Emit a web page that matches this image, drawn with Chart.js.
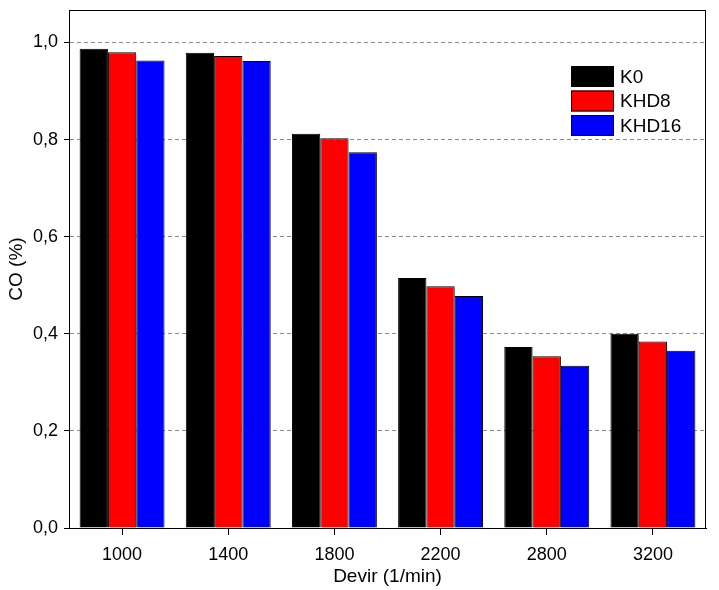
<!DOCTYPE html>
<html>
<head>
<meta charset="utf-8">
<script src="https://cdn.jsdelivr.net/npm/chart.js@4/dist/chart.umd.min.js"></script>
<style>
  html, body { margin: 0; padding: 0; background: #fff; }
  #wrap { width: 719px; height: 590px; }
</style>
</head>
<body>
<div id="wrap"><canvas id="myChart" width="719" height="590"></canvas></div>
<script>
const categories = ["1000", "1400", "1800", "2200", "2800", "3200"];
const seriesNames = ["K0", "KHD8", "KHD16"];
const k0 = [0.987, 0.979, 0.812, 0.515, 0.373, 0.400];
const khd8 = [0.980, 0.972, 0.803, 0.498, 0.354, 0.384];
const khd16 = [0.963, 0.962, 0.774, 0.478, 0.334, 0.365];
const yTicks = [0, 0.2, 0.4, 0.6, 0.8, 1.0];
const colors = ["#000000", "#ff0000", "#0000ff"];

const font = "'Liberation Sans', Arial, sans-serif";
Chart.defaults.font.family = font;
Chart.defaults.color = "#000";

// frame round the plot and the legend box inside it
const framePlugin = {
  id: "frame",
  afterDraw(chart) {
    const { ctx, chartArea: a } = chart;
    ctx.save();
    ctx.strokeStyle = "#000";
    ctx.lineWidth = 1;
    ctx.strokeRect(a.left + 0.5, a.top + 0.5, a.right - a.left - 1, a.bottom - a.top);

    const x = 571, y0 = 66, w = 43, h = 21, gap = 24.5;
    ctx.font = "19px " + font;
    ctx.textBaseline = "middle";
    chart.data.datasets.forEach((ds, i) => {
      const y = y0 + i * gap;
      ctx.fillStyle = ds.backgroundColor;
      ctx.fillRect(x, y, w, h);
      ctx.strokeStyle = "#000";
      ctx.strokeRect(x + 0.5, y + 0.5, w - 1, h - 1);
      ctx.fillStyle = "#000";
      ctx.fillText(ds.label, x + w + 6, y + h / 2 + 1);
    });
    ctx.restore();
  },
};

new Chart(document.getElementById("myChart"), {
  type: "bar",
  data: {
    labels: categories,
    datasets: [
      { label: seriesNames[0], data: k0, backgroundColor: colors[0] },
      { label: seriesNames[1], data: khd8, backgroundColor: colors[1] },
      { label: seriesNames[2], data: khd16, backgroundColor: colors[2] },
    ],
  },
  options: {
    responsive: false,
    animation: false,
    layout: { padding: { top: 10, right: 13, left: 0, bottom: 0 } },
    datasets: {
      bar: {
        borderColor: "#000",
        borderWidth: 1,
        categoryPercentage: 0.8,
        barPercentage: 1.0,
      },
    },
    plugins: {
      legend: { display: false },
      tooltip: { enabled: false },
    },
    scales: {
      x: {
        afterFit(scale) {
          scale.height = 62;
          scale.paddingLeft = 0;
          scale.paddingRight = 0;
        },
        grid: { offset: false, drawOnChartArea: false, drawTicks: true, tickLength: 7, color: "#000" },
        border: { color: "#000" },
        ticks: { font: { size: 18 }, padding: 9, color: "#000" },
        title: { display: true, text: "Devir (1/min)", font: { size: 19 }, padding: { top: 0, bottom: 2 } },
      },
      y: {
        min: 0,
        max: 1.067,
        afterFit(scale) {
          scale.width = 69;
          scale.paddingTop = 0;
          scale.paddingBottom = 0;
        },
        afterBuildTicks(scale) {
          scale.ticks = yTicks.map((v) => ({ value: v }));
        },
        grid: {
          color: (c) => (c.tick && c.tick.value === 0 ? "rgba(0,0,0,0)" : "#8c8c8c"),
          tickColor: "#000",
          tickLength: 5,
          drawTicks: true,
        },
        border: { color: "#000", dash: [4, 3] },
        ticks: {
          font: { size: 18 },
          padding: 6,
          color: "#000",
          callback: (v) => v.toFixed(1).replace(".", ","),
        },
        title: { display: true, text: "CO (%)", font: { size: 19 }, padding: { top: 5, bottom: 4 } },
      },
    },
  },
  plugins: [framePlugin],
});
</script>
</body>
</html>
